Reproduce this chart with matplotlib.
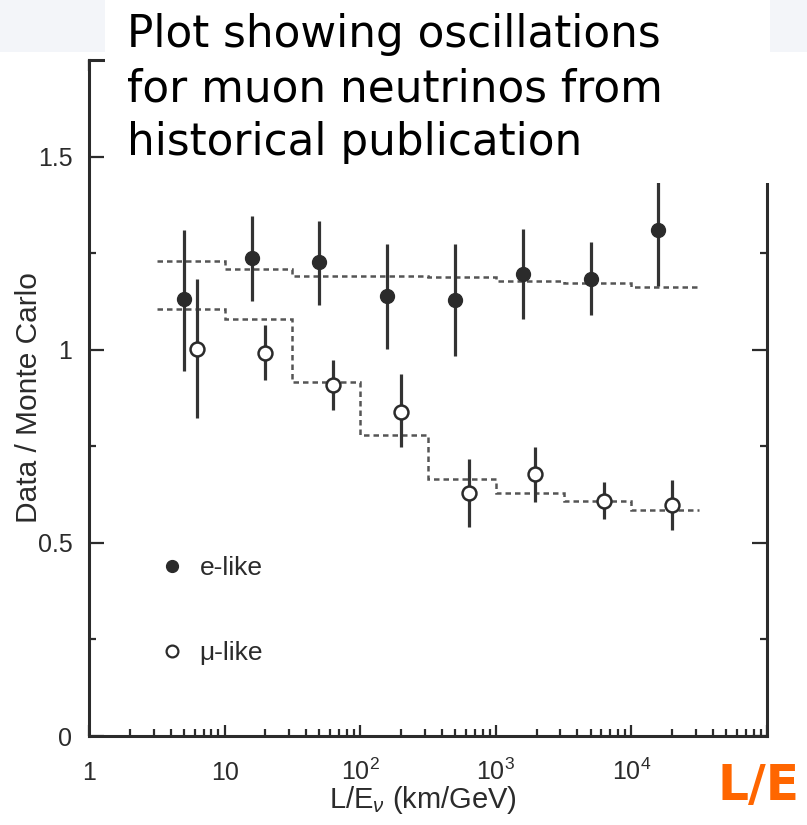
import numpy as np
import matplotlib
matplotlib.use("Agg")
import matplotlib.pyplot as plt
from matplotlib.lines import Line2D
from matplotlib.patches import Rectangle
from matplotlib.ticker import LogLocator, NullFormatter

plt.rcParams['font.family'] = ['Liberation Sans', 'DejaVu Sans']
plt.rcParams['mathtext.fontset'] = 'custom'
plt.rcParams['mathtext.rm'] = 'Liberation Sans'
plt.rcParams['mathtext.it'] = 'Liberation Sans:italic'

# e-like data (L/E in km/GeV, Data/MC ratio, error bar ends)
e_le = [5.0, 15.8, 50, 158, 500, 1580, 5000, 15800]
e_val = [1.13, 1.237, 1.226, 1.138, 1.129, 1.196, 1.183, 1.31]
e_top = [1.311, 1.347, 1.333, 1.274, 1.274, 1.313, 1.278, 1.45]
e_bot = [0.946, 1.127, 1.117, 1.002, 0.985, 1.080, 1.089, 1.164]

# mu-like data
mu_le = [6.3, 19.8, 63, 199, 630, 1960, 6250, 19800]
mu_val = [1.003, 0.991, 0.908, 0.840, 0.630, 0.679, 0.609, 0.597]
mu_top = [1.182, 1.065, 0.974, 0.936, 0.718, 0.748, 0.657, 0.662]
mu_bot = [0.822, 0.921, 0.843, 0.748, 0.541, 0.606, 0.563, 0.533]

# oscillation expectation (dashed histograms)
mc_edges = [3.16, 10, 31.6, 100, 316, 1000, 3160, 10000, 31600]
e_mc = [1.229, 1.209, 1.192, 1.190, 1.188, 1.177, 1.172, 1.162]
mu_mc = [1.106, 1.080, 0.916, 0.780, 0.666, 0.630, 0.609, 0.584]

xticks = [1, 10, 100, 1000, 10000, 100000]
xticklabels = ['1', '10', r'$\mathregular{10^2}$', r'$\mathregular{10^3}$', r'$\mathregular{10^4}$', '']
yticks = [0, 0.5, 1, 1.5]
yticklabels = ['0', '0.5', '1', '1.5']

ink = '#2b2b2b'

fig = plt.figure(figsize=(8.07, 8.25), dpi=100)
ax = fig.add_axes([89/807, 1 - 736/825, 678/807, 676/825])

ax.set_xscale('log')
ax.set_xlim(1, 1e5)
ax.set_ylim(0, 1.75)

dash = (0, (2.2, 1.6))
ax.stairs(e_mc, mc_edges, color='#555555', lw=1.8, linestyle=dash, baseline=None)
ax.stairs(mu_mc, mc_edges, color='#555555', lw=1.8, linestyle=dash, baseline=None)

e_err = [np.subtract(e_val, e_bot), np.subtract(e_top, e_val)]
mu_err = [np.subtract(mu_val, mu_bot), np.subtract(mu_top, mu_val)]
ax.errorbar(e_le, e_val, yerr=e_err, fmt='o', color=ink, ecolor='#333333',
            elinewidth=2.3, capsize=0, ms=10, zorder=3)
ax.errorbar(mu_le, mu_val, yerr=mu_err, fmt='o', color=ink, ecolor='#333333',
            mfc='white', mec=ink, mew=1.8, elinewidth=2.3, capsize=0, ms=10, zorder=3)

ax.set_xticks(xticks, xticklabels, va='baseline')
ax.xaxis.set_minor_locator(LogLocator(base=10, subs=range(2, 10), numticks=20))
ax.xaxis.set_minor_formatter(NullFormatter())
ax.set_yticks(yticks, yticklabels)
ax.set_yticks([0.25, 0.75, 1.25], minor=True)

ax.tick_params(which='both', direction='in', top=True, right=True,
               colors=ink, labelsize=18, width=1.6)
ax.tick_params(axis='y', which='major', length=11, pad=12)
ax.tick_params(axis='y', which='minor', length=5)
ax.tick_params(axis='x', which='major', length=8, pad=32)
ax.tick_params(axis='x', which='minor', length=5)
for s in ax.spines.values():
    s.set_linewidth(2.2)
    s.set_color(ink)

ax.set_ylabel('Data / Monte Carlo', fontsize=21.5, color=ink)
ax.yaxis.set_label_coords(-0.068, 0.5)
ax.set_xlabel(r'L/E$_{\nu}$ (km/GeV)', fontsize=21, color=ink)
ax.xaxis.set_label_coords(0.493, -0.071)

handles = [Line2D([], [], marker='o', ls='none', color=ink, ms=8.5),
           Line2D([], [], marker='o', ls='none', color=ink, mfc='white', mew=1.6, ms=8.5)]
ax.legend(handles, ['e-like', '\u03bc-like'], loc='upper left', bbox_to_anchor=(0.103, 0.266),
          frameon=False, fontsize=19, handlelength=1.0, handletextpad=0.55,
          labelspacing=2.3, borderpad=0, borderaxespad=0, labelcolor=ink)

# slide overlay: grey header band, white text box, orange label
fig.add_artist(Rectangle((0, 1 - 52/825), 1, 52/825, transform=fig.transFigure,
                         facecolor='#f3f5f9', edgecolor='none', zorder=4))
fig.add_artist(Rectangle((105/807, 1 - 183/825), 665/807, 183/825, transform=fig.transFigure,
                         facecolor='white', edgecolor='none', zorder=5))
fig.text(127/807, 1 - 13/825, 'Plot showing oscillations\nfor muon neutrinos from\nhistorical publication',
         fontsize=31.5, family='DejaVu Sans', va='top', ha='left', linespacing=1.33, zorder=6)
fig.text(758/807, 1 - 786/825, 'L/E', fontsize=35, fontweight='bold', color='#ff6600',
         family='DejaVu Sans', ha='center', va='center', zorder=6)

fig.savefig('out.png', dpi=100)
